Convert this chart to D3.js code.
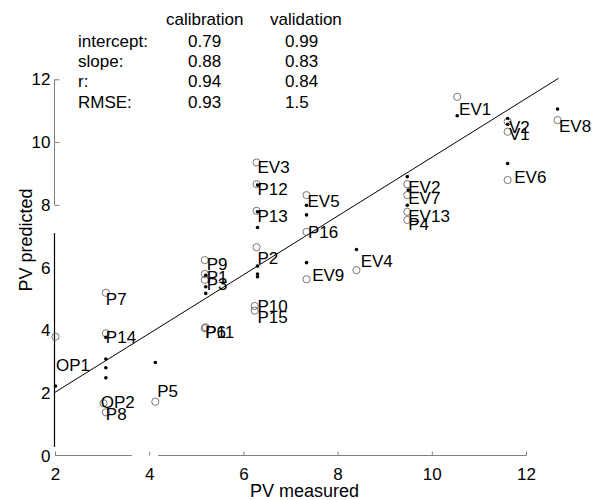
<!DOCTYPE html>
<html>
<head>
<meta charset="utf-8">
<script src="https://cdn.jsdelivr.net/npm/d3@7"></script>
<style>
  html, body { margin: 0; padding: 0; background: #fff; }
  svg { display: block; }
  text { font-family: "Liberation Sans", Arial, Helvetica, sans-serif; }
</style>
</head>
<body>
<svg id="chart" width="598" height="500"></svg>
<script>
// ---------------- data ----------------
const xTicks = [2, 4, 6, 8, 10, 12];
const yTicks = [0, 2, 4, 6, 8, 10, 12];

// statistics table
const statHeaders = ["calibration", "validation"];
const statNames = ["intercept:", "slope:", "r:", "RMSE:"];
const statCalibration = ["0.79", "0.88", "0.94", "0.93"];
const statValidation = ["0.99", "0.83", "0.84", "1.5"];

// validation samples (open circles), in axis units
const validX = [2.01, 3.08, 3.08, 3.03, 3.08, 4.13, 5.18, 5.18, 5.18, 5.20, 5.18,
                6.28, 6.28, 6.28, 6.28, 6.24, 6.24, 7.34, 7.34, 7.34, 8.40,
                9.48, 9.48, 9.48, 9.48, 10.54, 11.61, 11.61, 11.61, 12.67];
const validY = [3.80, 5.20, 3.91, 1.68, 1.39, 1.73, 6.24, 5.80, 5.61, 4.10, 4.07,
                9.35, 8.66, 7.81, 6.65, 4.78, 4.63, 8.31, 7.14, 5.63, 5.92,
                8.66, 8.31, 7.78, 7.52, 11.44, 10.65, 10.33, 8.79, 10.70];

// calibration samples (dots), in axis units
const calibX = [2.01, 3.08, 3.08, 3.08, 3.08, 4.13, 5.20, 5.20, 5.20,
                6.30, 6.30, 6.30, 6.30, 6.30, 6.30, 7.34, 7.34, 7.34, 8.40,
                9.48, 9.50, 9.48, 10.54, 11.61, 11.61, 11.61, 12.67];
const calibY = [2.23, 3.78, 3.09, 2.81, 2.49, 2.98, 5.76, 5.39, 5.18,
                8.63, 7.78, 7.28, 6.05, 5.80, 5.71, 7.99, 7.68, 6.16, 6.58,
                8.90, 8.47, 7.99, 10.84, 10.75, 10.57, 9.32, 11.05];

// point labels (left / baseline, axis units)
const labelText = ["OP1", "P7", "P14", "OP2", "P8", "P5", "P9", "P1", "P3", "P6", "P11",
                   "P2", "P10", "P15", "EV3", "P12", "P13", "EV5", "P16", "EV9", "EV4",
                   "EV2", "EV7", "EV13", "P4", "EV1", "V2", "V1", "EV6", "EV8"];
const labelX = [2.02, 3.08, 3.08, 2.97, 3.08, 4.17, 5.22, 5.22, 5.22, 5.19, 5.19,
                6.30, 6.30, 6.30, 6.30, 6.30, 6.30, 7.36, 7.37, 7.46, 8.49,
                9.50, 9.50, 9.50, 9.50, 10.58, 11.64, 11.64, 11.75, 12.70];
const labelY = [2.72, 4.81, 3.60, 1.54, 1.15, 1.87, 5.92, 5.50, 5.29, 3.75, 3.75,
                6.11, 4.60, 4.25, 9.02, 8.31, 7.46, 7.92, 6.93, 5.58, 6.01,
                8.37, 8.03, 7.46, 7.20, 10.86, 10.29, 10.06, 8.70, 10.33];

// reference line
const lineX = [2.00, 12.69];
const lineY = [2.03, 12.03];

// ---------------- drawing ----------------
const svg = d3.select("#chart");
const x = d3.scaleLinear().domain([2, 12]).range([55, 526]);
const y = d3.scaleLinear().domain([0, 12]).range([456, 79.3]);
const axisGray = "#808080";
const fs = 17;

// x axis
const gx = svg.append("g").attr("transform", `translate(0,${y(0) - 0.5})`);
gx.call(d3.axisBottom(x).tickValues(xTicks).tickSize(-4).tickPadding(12).tickFormat(d3.format("d")));
gx.select(".domain").remove();
gx.selectAll(".tick line").attr("stroke", axisGray);
gx.selectAll(".tick text").attr("font-size", fs).attr("fill", "#000")
  .attr("font-family", "Liberation Sans, Arial, sans-serif");
[[2, 3.63], [4.19, 12]].forEach(s => {
  gx.append("line").attr("x1", x(s[0])).attr("x2", x(s[1])).attr("y1", 0).attr("y2", 0)
    .attr("stroke", axisGray).attr("stroke-width", 1);
});

// y axis
const gy = svg.append("g").attr("transform", `translate(${x(2) - 0.5},0)`);
gy.call(d3.axisLeft(y).tickValues(yTicks).tickSize(-5).tickPadding(4).tickFormat(d3.format("d")));
gy.select(".domain").remove();
gy.selectAll(".tick line").attr("stroke", axisGray).attr("opacity", d => d >= 8 ? 1 : 0);
gy.selectAll(".tick text").attr("font-size", fs).attr("fill", "#000")
  .attr("font-family", "Liberation Sans, Arial, sans-serif");
gy.append("line").attr("x1", 0).attr("x2", 0).attr("y1", y(8)).attr("y2", y(12))
  .attr("stroke", axisGray).attr("stroke-width", 1);
gy.append("line").attr("x1", 0).attr("x2", 0).attr("y1", y(0.29)).attr("y2", y(7.10))
  .attr("stroke", "#000").attr("stroke-width", 1.2);

// axis titles
svg.append("text").attr("x", 304.5).attr("y", 497).attr("text-anchor", "middle")
  .attr("font-size", 18).text("PV measured");
svg.append("text").attr("transform", "translate(32,240) rotate(-90)").attr("text-anchor", "middle")
  .attr("font-size", 18).text("PV predicted");

// reference line
svg.append("line")
  .attr("x1", x(lineX[0])).attr("y1", y(lineY[0]))
  .attr("x2", x(lineX[1])).attr("y2", y(lineY[1]))
  .attr("stroke", "#000").attr("stroke-width", 1);

// validation circles
svg.append("g").selectAll("circle").data(validX).join("circle")
  .attr("cx", (d, i) => x(d)).attr("cy", (d, i) => y(validY[i]))
  .attr("r", 3.6).attr("fill", "none").attr("stroke", "#555").attr("stroke-width", 0.8);

// calibration dots
svg.append("g").selectAll("circle").data(calibX).join("circle")
  .attr("cx", (d, i) => x(d)).attr("cy", (d, i) => y(calibY[i]))
  .attr("r", 1.8).attr("fill", "#000");

// labels
svg.append("g").selectAll("text").data(labelText).join("text")
  .attr("x", (d, i) => x(labelX[i])).attr("y", (d, i) => y(labelY[i]))
  .attr("font-size", fs).attr("fill", "#000").text(d => d);

// stats table
const tbl = svg.append("g").attr("font-size", fs).attr("fill", "#000");
const colX = [166, 270];
const valX = [188, 285];
statHeaders.forEach((h, i) => tbl.append("text").attr("x", colX[i]).attr("y", 25).text(h));
statNames.forEach((n, i) => {
  const by = 46.5 + 20.4 * i;
  tbl.append("text").attr("x", 78).attr("y", by).text(n);
  tbl.append("text").attr("x", valX[0]).attr("y", by).text(statCalibration[i]);
  tbl.append("text").attr("x", valX[1]).attr("y", by).text(statValidation[i]);
});
</script>
</body>
</html>
